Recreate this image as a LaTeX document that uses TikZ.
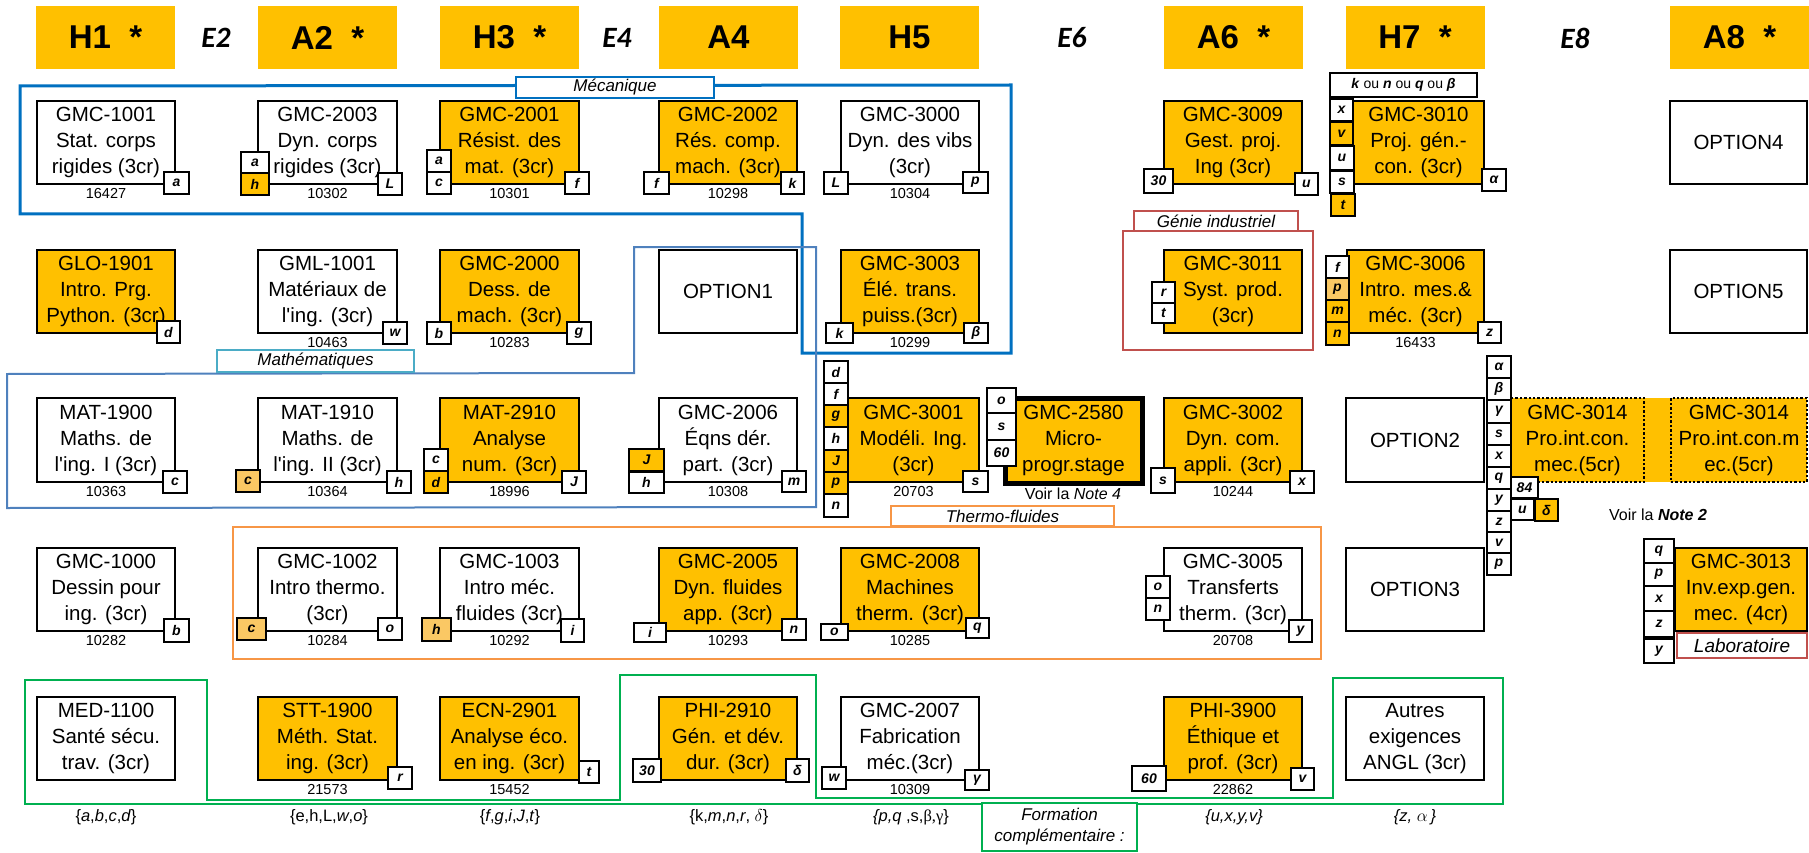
\documentclass[tikz,border=0pt]{standalone}
\usepackage{fontspec}
\setmainfont{Liberation Sans}
\newfontfamily\efont{Carlito}
\newfontfamily\serfont{Liberation Serif}
\definecolor{orng}{RGB}{255,192,0}
\definecolor{lorng}{RGB}{250,200,100}
\definecolor{mecblue}{RGB}{0,112,192}
\definecolor{mathblue}{RGB}{79,129,189}
\definecolor{mathlbl}{RGB}{75,172,198}
\definecolor{thermo}{RGB}{247,150,70}
\definecolor{genie}{RGB}{192,80,77}
\definecolor{formgreen}{RGB}{0,176,80}
\tikzset{
  cbox/.style={draw=black,line width=2.4pt,inner sep=0pt,align=center,font=\fontsize{20.5}{26}\selectfont},
  hdr/.style={fill=orng,inner sep=0pt,minimum width=139pt,minimum height=63pt,font=\fontsize{33}{36}\selectfont\bfseries},
  etxt/.style={inner sep=0pt,font=\efont\fontsize{29.5}{30}\selectfont\bfseries\itshape},
  lbox/.style={draw=black,line width=1.3pt,inner sep=0pt,font=\fontsize{14}{14}\selectfont\bfseries\itshape},
  numl/.style={inner sep=0pt,font=\fontsize{14.5}{15}\selectfont},
  setl/.style={inner sep=0pt,font=\fontsize{16.5}{17}\selectfont},
  glabel/.style={fill=white,line width=1.8pt,inner sep=0pt,align=center,font=\fontsize{17}{21}\selectfont\itshape},
}
\newcommand{\CrsBox}[7]{\node[cbox,#6,minimum width={(#4-#2)*1pt},minimum height={(#5-#3)*1pt}] (#1) at ({(#2+#4)/2},{(#3+#5)/2}) {#7};}
\newcommand{\LetBox}[7]{\node[lbox,fill=#6,minimum width={(#4-#2)*1pt},minimum height={(#5-#3)*1pt}] (#1) at ({(#2+#4)/2},{(#3+#5)/2}) {#7};}
\newcommand{\NumLbl}[4]{\node[numl] (#1) at (#2,#3) {#4};}
\newcommand{\GrpLbl}[7]{\node[glabel,draw=#6,minimum width={(#4-#2)*1pt},minimum height={(#5-#3)*1pt}] (#1) at ({(#2+#4)/2},{(#3+#5)/2}) {#7};}
\newcommand{\apo}{\textquotesingle}
\begin{document}
\begin{tikzpicture}[x=1pt,y=-1pt]
\useasboundingbox (0,0) rectangle (1809,853);
% ---------- headers
\node[hdr] (hH1) at (105.5,37.5) {H1\ \ *};
\node[etxt] (eE2) at (216,38) {E2};
\node[hdr] (hA2) at (327.5,37.5) {A2\ \ *};
\node[hdr] (hH3) at (509.5,37.5) {H3\ \ *};
\node[etxt] (eE4) at (617,38) {E4};
\node[hdr] (hA4) at (728.5,37.5) {A4};
\node[hdr] (hH5) at (909.5,37.5) {H5};
\node[etxt] (eE6) at (1072,38) {E6};
\node[hdr] (hA6) at (1233.5,37.5) {A6\ \ *};
\node[hdr] (hH7) at (1415,37.5) {H7\ \ *};
\node[etxt] (eE8) at (1575,38) {E8};
\node[hdr,minimum width=140pt] (hA8) at (1739.5,37.5) {A8\ \ *};
% ---------- group outlines
\draw[mecblue,line width=3pt] (20,86) -- (1011,85) -- (1011,353) -- (802,353) -- (802,214) -- (20,214) -- cycle;
\draw[mathblue,line width=2pt] (7,374) -- (634,373) -- (634,247) -- (816,247) -- (816,507) -- (7,508) -- cycle;
\draw[thermo,line width=2.5pt] (233,527) rectangle (1321,659);
\draw[genie,line width=2pt] (1123,231) rectangle (1313,350);
\draw[formgreen,line width=2.5pt] (25,680) -- (207,680) -- (207,800) -- (620,800) -- (620,675) -- (816,675) -- (816,798) -- (1333,798) -- (1333,678) -- (1503,678) -- (1503,804) -- (25,804) -- cycle;
% ---------- row 1
\CrsBox{c1001}{37}{101}{175}{184}{fill=white}{GMC-1001\\Stat. corps\\rigides (3cr)}
\CrsBox{c2003}{258}{101}{397}{184}{fill=white}{GMC-2003\\Dyn. corps\\rigides (3cr)}
\CrsBox{c2001}{440}{101}{579}{184}{fill=orng}{GMC-2001\\Résist. des\\mat. (3cr)}
\CrsBox{c2002}{659}{101}{797}{184}{fill=orng}{GMC-2002\\Rés. comp.\\mach. (3cr)}
\CrsBox{c3000}{841}{101}{979}{184}{fill=white}{GMC-3000\\Dyn. des vibs\\(3cr)}
\CrsBox{c3009}{1164}{101}{1302}{184}{fill=orng}{GMC-3009\\Gest. proj.\\Ing (3cr)}
\CrsBox{c3010}{1353}{101}{1484}{184}{fill=orng}{GMC-3010\\Proj. gén.-\\con. (3cr)}
\CrsBox{opt4}{1670}{101}{1807}{184}{fill=white}{OPTION4}
% ---------- row 2
\CrsBox{g1901}{37}{250}{175}{333}{fill=orng}{GLO-1901\\Intro. Prg.\\Python. (3cr)}
\CrsBox{l1001}{258}{250}{397}{333}{fill=white}{GML-1001\\Matériaux de\\l\apo ing. (3cr)}
\CrsBox{c2000}{440}{250}{579}{333}{fill=orng}{GMC-2000\\Dess. de\\mach. (3cr)}
\CrsBox{opt1}{659}{250}{797}{333}{fill=white}{OPTION1}
\CrsBox{c3003}{841}{250}{979}{333}{fill=orng}{GMC-3003\\Élé. trans.\\puiss.(3cr)}
\CrsBox{c3011}{1164}{250}{1302}{333}{fill=orng}{GMC-3011\\Syst. prod.\\(3cr)}
\CrsBox{c3006}{1347}{250}{1484}{333}{fill=orng}{GMC-3006\\Intro. mes.\&\\méc. (3cr)}
\CrsBox{opt5}{1670}{250}{1807}{333}{fill=white}{OPTION5}
% ---------- row 3
\CrsBox{m1900}{37}{398}{175}{482}{fill=white}{MAT-1900\\Maths. de\\l\apo ing. I (3cr)}
\CrsBox{m1910}{258}{398}{397}{482}{fill=white}{MAT-1910\\Maths. de\\l\apo ing. II (3cr)}
\CrsBox{m2910}{440}{398}{579}{482}{fill=orng}{MAT-2910\\Analyse\\num. (3cr)}
\CrsBox{c2006}{659}{398}{797}{482}{fill=white}{GMC-2006\\Éqns dér.\\part. (3cr)}
\CrsBox{c3001}{848}{398}{979}{482}{fill=orng}{GMC-3001\\Modéli. Ing.\\(3cr)}
\CrsBox{c2580}{1005}{398}{1142}{483}{fill=orng,line width=5pt}{GMC-2580\\Micro-\\progr.stage}
\CrsBox{c3002}{1164}{398}{1302}{482}{fill=orng}{GMC-3002\\Dyn. com.\\appli. (3cr)}
\CrsBox{opt2}{1346}{398}{1484}{482}{fill=white}{OPTION2}
\fill[orng] (1644,398) rectangle (1671,482);
\CrsBox{c3014a}{1511}{398}{1644}{482}{fill=orng,dotted,line width=2pt}{GMC-3014\\Pro.int.con.\\mec.(5cr)}
\CrsBox{c3014b}{1671}{398}{1807}{482}{fill=orng,dotted,line width=2pt}{GMC-3014\\Pro.int.con.m\\ec.(5cr)}
% ---------- row 4
\CrsBox{c1000}{37}{548}{175}{631}{fill=white}{GMC-1000\\Dessin pour\\ing. (3cr)}
\CrsBox{c1002}{258}{548}{397}{631}{fill=white}{GMC-1002\\Intro thermo.\\(3cr)}
\CrsBox{c1003}{440}{548}{579}{631}{fill=white}{GMC-1003\\Intro méc.\\fluides (3cr)}
\CrsBox{c2005}{659}{548}{797}{631}{fill=orng}{GMC-2005\\Dyn. fluides\\app. (3cr)}
\CrsBox{c2008}{841}{548}{979}{631}{fill=orng}{GMC-2008\\Machines\\therm. (3cr)}
\CrsBox{c3005}{1164}{548}{1302}{631}{fill=white}{GMC-3005\\Transferts\\therm. (3cr)}
\CrsBox{opt3}{1346}{548}{1484}{631}{fill=white}{OPTION3}
\CrsBox{c3013}{1675}{548}{1807}{631}{fill=orng}{GMC-3013\\Inv.exp.gen.\\mec. (4cr)}
% ---------- row 5
\CrsBox{m1100}{37}{697}{175}{780}{fill=white}{MED-1100\\Santé sécu.\\trav. (3cr)}
\CrsBox{s1900}{258}{697}{397}{780}{fill=orng}{STT-1900\\Méth. Stat.\\ing. (3cr)}
\CrsBox{e2901}{440}{697}{579}{780}{fill=orng}{ECN-2901\\Analyse éco.\\en ing. (3cr)}
\CrsBox{p2910}{659}{697}{797}{780}{fill=orng}{PHI-2910\\Gén. et dév.\\dur. (3cr)}
\CrsBox{c2007}{841}{697}{979}{780}{fill=white}{GMC-2007\\Fabrication\\méc.(3cr)}
\CrsBox{p3900}{1164}{697}{1302}{780}{fill=orng}{PHI-3900\\Éthique et\\prof. (3cr)}
\CrsBox{autres}{1346}{697}{1484}{780}{fill=white}{Autres\\exigences\\ANGL (3cr)}
% ---------- numbers
\NumLbl{n1}{106}{194}{16427}
\NumLbl{n2}{327.5}{194}{10302}
\NumLbl{n3}{509.5}{194}{10301}
\NumLbl{n4}{728}{194}{10298}
\NumLbl{n5}{910}{194}{10304}
\NumLbl{n6}{327.5}{343}{10463}
\NumLbl{n7}{509.5}{343}{10283}
\NumLbl{n8}{910}{343}{10299}
\NumLbl{n9}{1415.5}{343}{16433}
\NumLbl{n10}{106}{492}{10363}
\NumLbl{n11}{327.5}{492}{10364}
\NumLbl{n12}{509.5}{492}{18996}
\NumLbl{n13}{728}{492}{10308}
\NumLbl{n14}{913.5}{492}{20703}
\NumLbl{n15}{1233}{492}{10244}
\NumLbl{n16}{106}{641}{10282}
\NumLbl{n17}{327.5}{641}{10284}
\NumLbl{n18}{509.5}{641}{10292}
\NumLbl{n19}{728}{641}{10293}
\NumLbl{n20}{910}{641}{10285}
\NumLbl{n21}{1233}{641}{20708}
\NumLbl{n22}{327.5}{790}{21573}
\NumLbl{n23}{509.5}{790}{15452}
\NumLbl{n24}{910}{790}{10309}
\NumLbl{n25}{1233}{790}{22862}
\node[inner sep=0pt,font=\fontsize{16}{17}\selectfont] (note4) at (1073,494) {Voir la \textit{Note 4}};
\node[inner sep=0pt,font=\fontsize{16}{17}\selectfont] (note2) at (1658,515) {Voir la \textbf{\textit{Note 2}}};
% ---------- letter boxes row 1
\LetBox{r1a}{164}{172}{189}{194}{white}{a}
\LetBox{r1b}{241}{152}{269}{173}{white}{a}
\LetBox{r1c}{241}{173}{269}{195}{orng}{h}
\LetBox{r1d}{378}{173}{402}{195}{white}{L}
\LetBox{r1e}{427}{150}{451}{172}{white}{a}
\LetBox{r1f}{427}{172}{451}{194}{white}{c}
\LetBox{r1g}{565}{172}{589}{194}{white}{f}
\LetBox{r1h}{644}{172}{669}{194}{white}{f}
\LetBox{r1i}{781}{172}{804}{194}{white}{k}
\LetBox{r1j}{824}{172}{848}{194}{white}{L}
\LetBox{r1k}{963}{172}{988}{193}{white}{p}
\LetBox{r1l}{1144}{169}{1173}{193}{white}{30}
\LetBox{r1m}{1295}{173}{1318}{195}{white}{u}
\LetBox{r1n}{1330}{73}{1477}{97}{white}{k \textnormal{ou} n \textnormal{ou} q \textnormal{ou} β}
\LetBox{r1o}{1330}{99}{1353}{121}{white}{x}
\LetBox{r1p}{1330}{122}{1353}{145}{orng}{v}
\LetBox{r1q}{1330}{146}{1354}{170}{white}{u}
\LetBox{r1r}{1330}{171}{1354}{193}{white}{s}
\LetBox{r1s}{1331}{194}{1355}{216}{orng}{t}
\LetBox{r1t}{1482}{169}{1506}{191}{white}{α}
% ---------- letter boxes row 2
\LetBox{r2a}{157}{321}{180}{343}{white}{d}
\LetBox{r2b}{383}{322}{407}{344}{white}{w}
\LetBox{r2c}{427}{322}{451}{344}{white}{b}
\LetBox{r2d}{567}{322}{591}{344}{white}{g}
\LetBox{r2e}{826}{323}{853}{343}{white}{k}
\LetBox{r2f}{964}{323}{988}{343}{white}{β}
\LetBox{r2g}{1152}{282}{1175}{303}{white}{r}
\LetBox{r2h}{1152}{303}{1175}{323}{white}{t}
\LetBox{r2i}{1326}{256}{1349}{278}{white}{f}
\LetBox{r2j}{1326}{278}{1349}{300}{lorng}{p}
\LetBox{r2k}{1326}{300}{1349}{322}{orng}{m}
\LetBox{r2l}{1326}{322}{1349}{345}{orng}{n}
\LetBox{r2m}{1478}{322}{1501}{343}{white}{z}
% ---------- letter boxes row 3
\LetBox{r3a}{163}{471}{187}{493}{white}{c}
\LetBox{r3b}{236}{470}{260}{492}{lorng}{c}
\LetBox{r3c}{387}{471}{411}{493}{white}{h}
\LetBox{r3d}{424}{449}{448}{471}{white}{c}
\LetBox{r3e}{424}{471}{448}{493}{orng}{d}
\LetBox{r3f}{562}{471}{586}{493}{white}{J}
\LetBox{r3g}{629}{449}{664}{471}{orng}{J}
\LetBox{r3h}{629}{472}{664}{493}{white}{h}
\LetBox{r3i}{782}{471}{806}{492}{white}{m}
\LetBox{r3j}{824}{361}{848}{383}{white}{d}
\LetBox{r3k}{824}{383}{848}{405}{white}{f}
\LetBox{r3l}{824}{405}{848}{427}{orng}{g}
\LetBox{r3m}{824}{427}{848}{450}{white}{h}
\LetBox{r3n}{824}{450}{848}{472}{orng}{J}
\LetBox{r3o}{824}{472}{848}{494}{orng}{p}
\LetBox{r3p}{824}{494}{848}{517}{white}{n}
\LetBox{r3q}{963}{471}{988}{492}{white}{s}
\LetBox{r3r}{987}{388}{1016}{413}{white}{o}
\LetBox{r3s}{987}{413}{1016}{440}{white}{s}
\LetBox{r3t}{987}{440}{1016}{466}{white}{60}
\LetBox{r3u}{1151}{468}{1175}{493}{white}{s}
\LetBox{r3v}{1290}{471}{1314}{493}{white}{x}
\LetBox{r3w}{1487}{356}{1511}{378}{white}{α}
\LetBox{r3x}{1487}{378}{1511}{400}{white}{β}
\LetBox{r3y}{1487}{400}{1511}{423}{white}{γ}
\LetBox{r3z}{1487}{423}{1511}{445}{white}{s}
\LetBox{r3aa}{1487}{445}{1511}{467}{white}{x}
\LetBox{r3ab}{1487}{467}{1511}{489}{white}{q}
\LetBox{r3ac}{1487}{489}{1511}{511}{white}{y}
\LetBox{r3ad}{1487}{511}{1511}{532}{white}{z}
\LetBox{r3ae}{1487}{532}{1511}{553}{white}{v}
\LetBox{r3af}{1487}{553}{1511}{575}{white}{p}
\LetBox{r3ag}{1511}{477}{1538}{498}{white}{84}
\LetBox{r3ah}{1511}{499}{1534}{520}{white}{u}
\LetBox{r3ai}{1535}{499}{1558}{521}{orng}{δ}
% ---------- letter boxes row 4
\LetBox{r4a}{164}{619}{189}{642}{white}{b}
\LetBox{r4b}{237}{618}{266}{640}{lorng}{c}
\LetBox{r4c}{378}{618}{402}{640}{white}{o}
\LetBox{r4d}{422}{618}{451}{641}{lorng}{h}
\LetBox{r4e}{561}{619}{584}{642}{white}{i}
\LetBox{r4f}{634}{623}{666}{642}{white}{i}
\LetBox{r4g}{782}{619}{806}{640}{white}{n}
\LetBox{r4h}{821}{624}{848}{640}{white}{o}
\LetBox{r4i}{966}{618}{989}{638}{white}{q}
\LetBox{r4j}{1146}{576}{1170}{598}{white}{o}
\LetBox{r4k}{1146}{598}{1170}{620}{white}{n}
\LetBox{r4l}{1289}{620}{1312}{642}{white}{y}
\LetBox{r4m}{1644}{539}{1674}{563}{white}{q}
\LetBox{r4n}{1644}{563}{1674}{586}{white}{p}
\LetBox{r4o}{1644}{586}{1674}{611}{white}{x}
\LetBox{r4p}{1644}{611}{1674}{637}{white}{z}
\LetBox{r4q}{1644}{639}{1674}{663}{white}{y}
\node[draw=genie,line width=2pt,inner sep=0pt,minimum width=130pt,minimum height=25pt,font=\fontsize{19}{20}\selectfont\itshape] (labo) at (1742,645.5) {Laboratoire};
% ---------- letter boxes row 5
\LetBox{r5a}{388}{767}{412}{789}{white}{r}
\LetBox{r5b}{579}{761}{599}{783}{white}{t}
\LetBox{r5c}{633}{759}{661}{782}{white}{30}
\LetBox{r5d}{786}{759}{809}{782}{white}{δ}
\LetBox{r5e}{822}{767}{846}{789}{white}{w}
\LetBox{r5f}{965}{770}{989}{790}{white}{γ}
\LetBox{r5g}{1132}{766}{1166}{791}{white}{60}
\LetBox{r5h}{1291}{768}{1314}{790}{white}{v}
% ---------- group labels
\GrpLbl{gmec}{516}{77}{714}{98}{mecblue}{Mécanique}
\GrpLbl{gmath}{217}{350}{414}{372}{mathlbl}{Mathématiques}
\GrpLbl{gthermo}{891}{506}{1114}{526}{thermo}{Thermo-fluides}
\GrpLbl{ggenie}{1134}{211}{1298}{231}{genie}{Génie industriel}
\GrpLbl{gform}{982}{803}{1137}{851}{formgreen}{Formation\\complémentaire :}
% ---------- set labels
\node[setl] (s1) at (106,817) {\{\textit{a},\textit{b},\textit{c},\textit{d}\}};
\node[setl] (s2) at (329,817) {\{e,h,L,\textit{w},\textit{o}\}};
\node[setl] (s3) at (510,817) {\{\textit{f},\textit{g},\textit{i},\textit{J},\textit{t}\}};
\node[setl] (s4) at (729,817) {\{k,\textit{m},\textit{n},\textit{r}, $\delta$\}};
\node[setl] (s5) at (911,817) {\textit{\{p,q} ,s,{\serfont β,γ}\}};
\node[setl] (s6) at (1234,817) {\textit{\{u,x,y,v\}}};
\node[setl] (s7) at (1415,817) {\textit{\{z,} $\alpha$\,\textit{\}}};
\end{tikzpicture}
\end{document}
